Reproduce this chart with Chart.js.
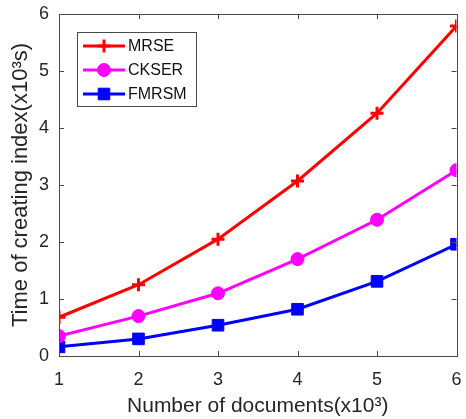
<!DOCTYPE html>
<html>
<head>
<meta charset="utf-8">
<script src="https://cdn.jsdelivr.net/npm/chart.js@4/dist/chart.umd.min.js"></script>
<style>
  html, body { margin: 0; padding: 0; background: #fff; }
  #wrap { width: 466px; height: 419px; }
</style>
</head>
<body>
<div id="wrap"><canvas id="c" width="466" height="419"></canvas></div>
<script>
// Number of documents (x10^3)
const documents = [1, 2, 3, 4, 5, 6];
// Time of creating index (x10^3 s)
const mrse  = [0.68, 1.25, 2.05, 3.07, 4.26, 5.79];
const ckser = [0.35, 0.70, 1.10, 1.70, 2.39, 3.26];
const fmrsm = [0.16, 0.30, 0.54, 0.82, 1.31, 1.96];
const yTicks = [0, 1, 2, 3, 4, 5, 6];
const xTicks = [1, 2, 3, 4, 5, 6];

const FONT = '"Liberation Sans", Arial, sans-serif';
const AXIS_COLOR = '#4a4a4a';
const TEXT_COLOR = '#262626';

function pts(vals) { return documents.map((d, i) => ({ x: d, y: vals[i] })); }

// MATLAB-style box with inward ticks on all four sides
const boxPlugin = {
  id: 'boxTicks',
  afterDatasetsDraw(chart) {
    const { ctx, chartArea: a, scales: { x, y } } = chart;
    const len = 5;
    ctx.save();
    ctx.strokeStyle = AXIS_COLOR;
    ctx.lineWidth = 1;
    ctx.strokeRect(Math.round(a.left) + 0.5, Math.round(a.top) + 0.5,
                   Math.round(a.right - a.left), Math.round(a.bottom - a.top));
    ctx.beginPath();
    xTicks.forEach(v => {
      const px = Math.round(x.getPixelForValue(v)) + 0.5;
      ctx.moveTo(px, a.bottom); ctx.lineTo(px, a.bottom - len);
      ctx.moveTo(px, a.top); ctx.lineTo(px, a.top + len);
    });
    yTicks.forEach(v => {
      const py = Math.round(y.getPixelForValue(v)) + 0.5;
      ctx.moveTo(a.left, py); ctx.lineTo(a.left + len, py);
      ctx.moveTo(a.right, py); ctx.lineTo(a.right - len, py);
    });
    ctx.stroke();
    ctx.restore();
  }
};

// Legend box drawn inside the upper-left of the plot area
const insideLegend = {
  id: 'insideLegend',
  afterDraw(chart) {
    const { ctx, chartArea: a } = chart;
    const bx = Math.round(a.left) + 18, by = Math.round(a.top) + 18;
    const bw = 119, bh = 74;
    ctx.save();
    ctx.fillStyle = '#fff';
    ctx.fillRect(bx, by, bw, bh);
    ctx.strokeStyle = AXIS_COLOR;
    ctx.lineWidth = 1;
    ctx.strokeRect(bx + 0.5, by + 0.5, bw, bh);
    chart.data.datasets.forEach((ds, i) => {
      const cy = by + 14 + i * 24;
      ctx.strokeStyle = ds.borderColor;
      ctx.lineWidth = ds.borderWidth;
      ctx.beginPath();
      ctx.moveTo(bx + 6, cy); ctx.lineTo(bx + 48, cy);
      ctx.stroke();
      ctx.fillStyle = ds.pointBackgroundColor;
      ctx.strokeStyle = ds.pointBorderColor;
      ctx.lineWidth = ds.pointBorderWidth;
      Chart.helpers.drawPoint(ctx, { pointStyle: ds.pointStyle, radius: ds.pointRadius, rotation: 0, borderWidth: ds.pointBorderWidth }, bx + 27, cy);
      ctx.fillStyle = '#111';
      ctx.font = '16px ' + FONT;
      ctx.textBaseline = 'middle';
      ctx.fillText(ds.label, bx + 51, cy + 1);
    });
    ctx.restore();
  }
};

new Chart(document.getElementById('c'), {
  type: 'line',
  data: {
    datasets: [
      { label: 'MRSE', data: pts(mrse), borderColor: '#ff0000', borderWidth: 3,
        pointStyle: 'cross', pointRadius: 6.5, pointBorderWidth: 3,
        pointBackgroundColor: '#ff0000', pointBorderColor: '#ff0000' },
      { label: 'CKSER', data: pts(ckser), borderColor: '#ff00ff', borderWidth: 3,
        pointStyle: 'circle', pointRadius: 6.5, pointBorderWidth: 1,
        pointBackgroundColor: '#ff00ff', pointBorderColor: '#ff00ff' },
      { label: 'FMRSM', data: pts(fmrsm), borderColor: '#0000ff', borderWidth: 3,
        pointStyle: 'rect', pointRadius: 8.2, pointBorderWidth: 1,
        pointBackgroundColor: '#0000ff', pointBorderColor: '#0000ff' }
    ]
  },
  options: {
    responsive: false,
    animation: false,
    layout: { padding: { top: 14, right: 6, left: 0, bottom: 0 } },
    plugins: { legend: { display: false }, tooltip: { enabled: false } },
    elements: { line: { tension: 0 } },
    scales: {
      x: {
        type: 'linear', min: 1, max: 6,
        grid: { display: false }, border: { display: false },
        afterBuildTicks(s) { s.ticks = xTicks.map(v => ({ value: v })); },
        afterFit(s) { s.height = 63; s.paddingLeft = 0; s.paddingRight = 0; },
        ticks: { color: TEXT_COLOR, font: { family: FONT, size: 18 }, padding: 5 },
        title: { display: true, text: 'Number of documents(x10³)', color: TEXT_COLOR,
                 font: { family: FONT, size: 21 }, padding: { top: 0, bottom: 0 } }
      },
      y: {
        type: 'linear', min: 0, max: 6,
        grid: { display: false }, border: { display: false },
        afterBuildTicks(s) { s.ticks = yTicks.map(v => ({ value: v })); },
        afterFit(s) { s.width = 59; s.paddingTop = 0; s.paddingBottom = 0; },
        ticks: { color: TEXT_COLOR, font: { family: FONT, size: 18 }, padding: 2 },
        title: { display: true, text: 'Time of creating index(x10³s)', color: TEXT_COLOR,
                 font: { family: FONT, size: 22 }, padding: { top: 8, bottom: 0 } }
      }
    }
  },
  plugins: [boxPlugin, insideLegend]
});
</script>
</body>
</html>
